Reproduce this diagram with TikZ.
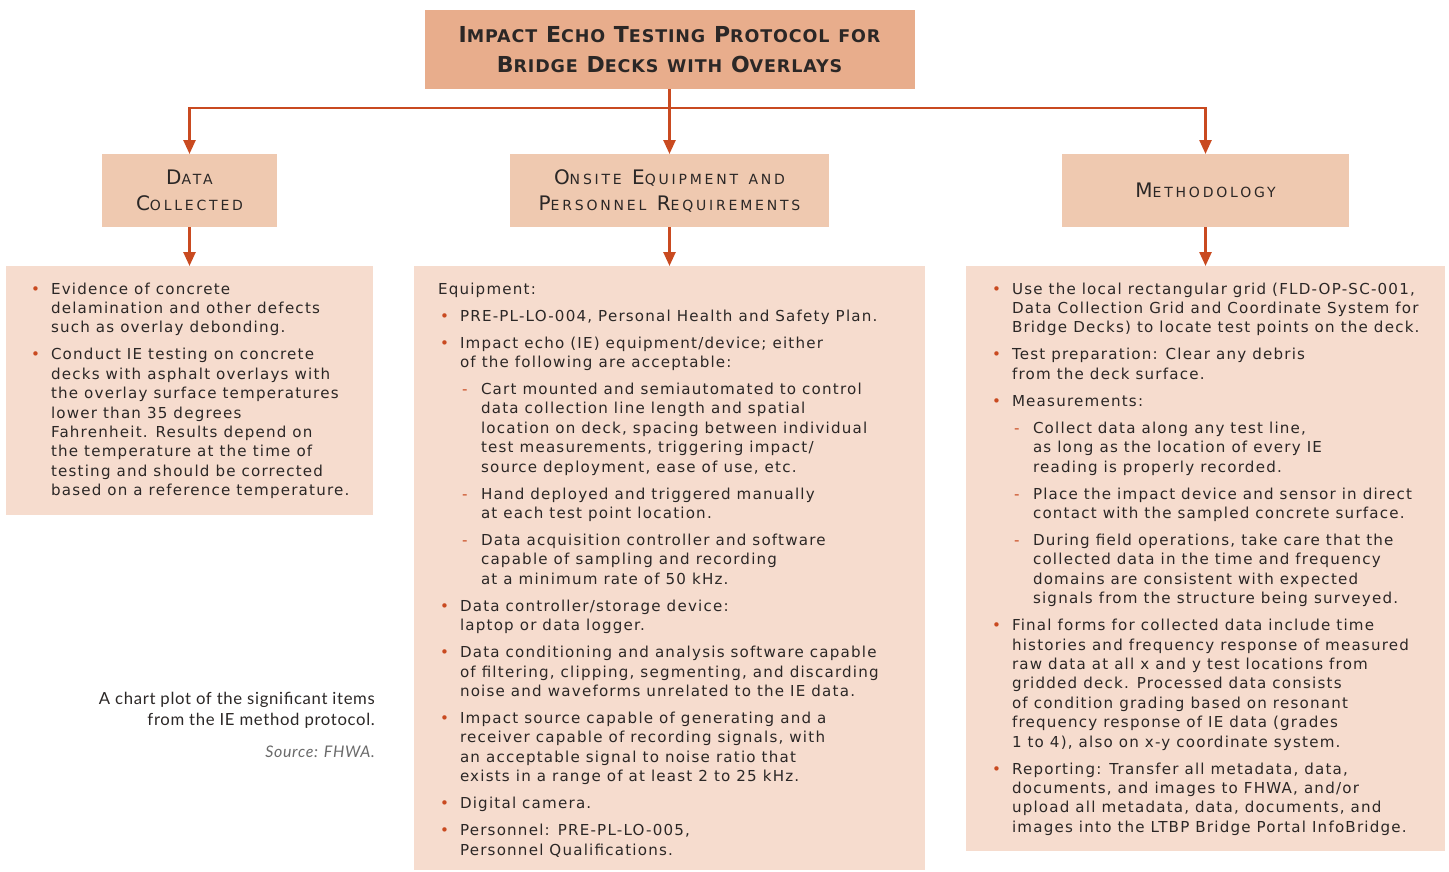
\documentclass[tikz,border=0pt]{standalone}
\usepackage{fontspec}
\usetikzlibrary{arrows.meta}
\setmainfont{DejaVu Sans}
\newfontfamily\bodyf[LetterSpace=8]{DejaVu Sans}
\newfontfamily\titlef[LetterSpace=5]{DejaVu Sans}
\newfontfamily\headf[LetterSpace=20]{DejaVu Sans}
\newfontfamily\capf[LetterSpace=4]{Lato}
\definecolor{titlefill}{HTML}{E8AD8C}
\definecolor{headfill}{HTML}{EFC9B0}
\definecolor{boxfill}{HTML}{F6DCCE}
\definecolor{acc}{HTML}{C94A20}
\definecolor{ink}{HTML}{2B2726}
\definecolor{srcgray}{HTML}{6A6A6A}
\newcommand\tsc[2]{{\fontsize{22}{30}\selectfont #1}{\fontsize{17.5}{30}\selectfont #2}}
\newcommand\hsc[2]{{\fontsize{20}{26}\selectfont #1}{\fontsize{14}{26}\selectfont #2}}
\newcommand\bitem[1]{\par\hangindent=20pt\hangafter=1\noindent\hbox to 20pt{\textcolor{acc}{\textbullet}\hss}#1}
\newcommand\ditem[1]{\par\hangindent=41pt\hangafter=1\noindent\hbox to 41pt{\hspace{22pt}\textcolor{acc}{-}\hss}#1}
\newcommand\plain[1]{\par\noindent\hspace*{-2pt}#1}
\newcommand\bodysetup{\bodyf\fontsize{15.1}{19.4}\selectfont\raggedright\let\\\newline\parskip=7.6pt\relax}
\begin{document}
\begin{tikzpicture}[x=1pt,y=-1pt,
  tbox/.style={fill=titlefill, draw=none, outer sep=0pt, inner sep=0pt, align=center, text=ink},
  hbox/.style={fill=headfill, draw=none, outer sep=0pt, inner sep=0pt, align=center, text=ink},
  cbox/.style={fill=boxfill, draw=none, outer sep=0pt, inner sep=0pt},
  txt/.style={anchor=base west, inner sep=0pt, outer sep=0pt, text=ink},
  arr/.style={draw=acc, line width=2.5pt, -{Triangle[length=14pt,width=12pt]}}
]
\useasboundingbox (0,0) rectangle (1449,871);
% title
\node[tbox, minimum width=490pt, minimum height=79pt, font=\titlef\bfseries\fontsize{22}{30}\selectfont] (title) at (669.5,49.5)
  {\tsc{I}{MPACT} \tsc{E}{CHO} \tsc{T}{ESTING} \tsc{P}{ROTOCOL} \tsc{}{FOR}\\
   \tsc{B}{RIDGE} \tsc{D}{ECKS} \tsc{}{WITH} \tsc{O}{VERLAYS}};
% headers
\node[hbox, minimum width=175pt, minimum height=73pt, font=\headf\fontsize{20}{26}\selectfont] (h1) at (189.5,190.5)
  {\hsc{D}{ATA}\\ \hsc{C}{OLLECTED}};
\node[hbox, minimum width=319pt, minimum height=73pt, font=\headf\fontsize{20}{26}\selectfont] (h2) at (669.5,190.5)
  {\hsc{O}{NSITE} \hsc{E}{QUIPMENT} \hsc{}{AND}\\ \hsc{P}{ERSONNEL} \hsc{R}{EQUIREMENTS}};
\node[hbox, minimum width=287pt, minimum height=73pt, font=\headf\fontsize{20}{26}\selectfont] (h3) at (1205.5,190.5)
  {\hsc{M}{ETHODOLOGY}};
% content boxes
\node[cbox, minimum width=367pt, minimum height=249pt] (c1) at (189.5,390.5) {};
\node[cbox, minimum width=511pt, minimum height=604pt] (c2) at (669.5,568) {};
\node[cbox, minimum width=479pt, minimum height=585pt] (c3) at (1205.5,558.5) {};
% connectors
\coordinate (j) at (669.5,108);
\draw[arr] (title.south) -- (h2.north);
\draw[arr] (j) -| (h1.north);
\draw[arr] (j) -| (h3.north);
\draw[arr] (h1.south) -- (c1.north);
\draw[arr] (h2.south) -- (c2.north);
\draw[arr] (h3.south) -- (c3.north);
% texts
\node[txt] (t1) at (31,294) {\parbox[t]{420pt}{\bodysetup
\bitem{Evidence of concrete\\ delamination and other defects\\ such as overlay debonding.}
\bitem{Conduct IE testing on concrete\\ decks with asphalt overlays with\\ the overlay surface temperatures\\ lower than 35 degrees\\ Fahrenheit. Results depend on\\ the temperature at the time of\\ testing and should be corrected\\ based on a reference temperature.}
}};
\node[txt] (t2) at (440,294) {\parbox[t]{560pt}{\bodysetup
\plain{Equipment:}
\bitem{PRE-PL-LO-004, Personal Health and Safety Plan.}
\bitem{Impact echo (IE) equipment/device; either\\ of the following are acceptable:}
\ditem{Cart mounted and semiautomated to control\\ data collection line length and spatial\\ location on deck, spacing between individual\\ test measurements, triggering impact/\\ source deployment, ease of use, etc.}
\ditem{Hand deployed and triggered manually\\ at each test point location.}
\ditem{Data acquisition controller and software\\ capable of sampling and recording\\ at a minimum rate of 50 kHz.}
\bitem{Data controller/storage device:\\ laptop or data logger.}
\bitem{Data conditioning and analysis software capable\\ of filtering, clipping, segmenting, and discarding\\ noise and waveforms unrelated to the IE data.}
\bitem{Impact source capable of generating and a\\ receiver capable of recording signals, with\\ an acceptable signal to noise ratio that\\ exists in a range of at least 2 to 25 kHz.}
\bitem{Digital camera.}
\bitem{Personnel: PRE-PL-LO-005,\\ Personnel Qualifications.}
}};
\node[txt] (t3) at (992,294) {\parbox[t]{560pt}{\bodysetup
\bitem{Use the local rectangular grid (FLD-OP-SC-001,\\ Data Collection Grid and Coordinate System for\\ Bridge Decks) to locate test points on the deck.}
\bitem{Test preparation: Clear any debris\\ from the deck surface.}
\bitem{Measurements:}
\ditem{Collect data along any test line,\\ as long as the location of every IE\\ reading is properly recorded.}
\ditem{Place the impact device and sensor in direct\\ contact with the sampled concrete surface.}
\ditem{During field operations, take care that the\\ collected data in the time and frequency\\ domains are consistent with expected\\ signals from the structure being surveyed.}
\bitem{Final forms for collected data include time\\ histories and frequency response of measured\\ raw data at all x and y test locations from\\ gridded deck. Processed data consists\\ of condition grading based on resonant\\ frequency response of IE data (grades\\ 1 to 4), also on x-y coordinate system.}
\bitem{Reporting: Transfer all metadata, data,\\ documents, and images to FHWA, and/or\\ upload all metadata, data, documents, and\\ images into the LTBP Bridge Portal InfoBridge.}
}};
% caption
\node[anchor=base east, inner sep=0pt, text=ink] (cap) at (375,704) {\parbox[t]{340pt}{\raggedleft\capf\fontsize{16.7}{21}\selectfont
A chart plot of the significant items\\ from the IE method protocol.}};
\node[anchor=base east, inner sep=0pt, text=srcgray] (src) at (375,757) {\capf\itshape\fontsize{16}{16}\selectfont Source: FHWA.};
\end{tikzpicture}
\end{document}
